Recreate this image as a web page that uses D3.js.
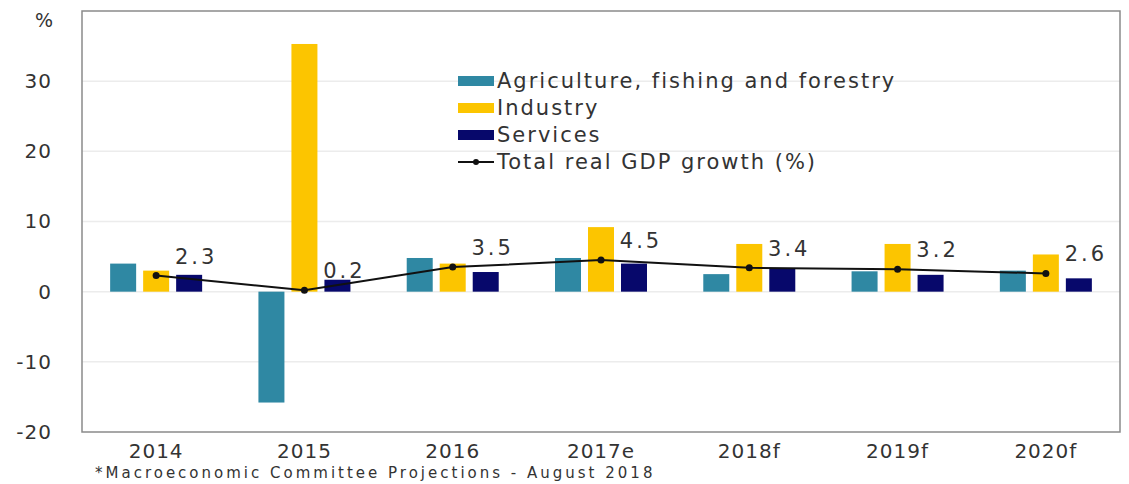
<!DOCTYPE html>
<html>
<head>
<meta charset="utf-8">
<script src="https://cdn.jsdelivr.net/npm/d3@7"></script>
<style>
  body { margin: 0; background: #fff; }
  text { font-family: "DejaVu Sans", sans-serif; fill: #333; }
</style>
</head>
<body>
<svg></svg>
<script>
//data
const years = ["2014", "2015", "2016", "2017e", "2018f", "2019f", "2020f"];
const agriculture = [4.0, -15.8, 4.8, 4.8, 2.5, 2.9, 3.0];
const industry = [3.0, 35.3, 4.0, 9.2, 6.8, 6.8, 5.3];
const services = [2.4, 1.7, 2.8, 4.0, 3.3, 2.4, 1.9];
const gdp = [2.3, 0.2, 3.5, 4.5, 3.4, 3.2, 2.6];
const seriesNames = ["Agriculture, fishing and forestry", "Industry", "Services"];
const yTicks = [-20, -10, 0, 10, 20, 30];
const footnote = "*Macroeconomic Committee Projections  - August 2018";

//constants
const W = 1129, H = 484;
const margin = {top: 11, right: 9, bottom: 52, left: 82};
const width = W - margin.left - margin.right;
const height = H - margin.top - margin.bottom;
const colors = ["#2f88a3", "#fcc500", "#07086b"];

const svg = d3.select("svg")
    .attr("width", W)
    .attr("height", H);

const g = svg.append("g")
    .attr("transform", "translate(" + margin.left + "," + margin.top + ")");

//scales
const x = d3.scaleBand()
    .domain(years)
    .range([0, width]);

const yScale = d3.scaleLinear()
    .domain([-20, 40])
    .range([height, 0]);

const barW = 26, step = 33;

//grid
g.append("g")
    .selectAll("line")
    .data(yTicks.filter(d => d > -20))
    .enter()
    .append("line")
    .attr("x1", 0)
    .attr("x2", width)
    .attr("y1", d => yScale(d))
    .attr("y2", d => yScale(d))
    .attr("stroke", "#ececec")
    .attr("stroke-width", 1.5);

//bars
const series = [agriculture, industry, services];
series.forEach((vals, s) => {
    g.append("g")
        .selectAll("rect")
        .data(vals)
        .enter()
        .append("rect")
        .attr("x", (d, i) => x(years[i]) + x.bandwidth() / 2 + (s - 1) * step - barW / 2)
        .attr("y", d => yScale(Math.max(0, d)))
        .attr("width", barW)
        .attr("height", d => Math.abs(yScale(d) - yScale(0)))
        .attr("fill", colors[s]);
});

//gdp line
const line = d3.line()
    .x((d, i) => x(years[i]) + x.bandwidth() / 2)
    .y(d => yScale(d));

g.append("path")
    .datum(gdp)
    .attr("d", line)
    .attr("fill", "none")
    .attr("stroke", "#111")
    .attr("stroke-width", 2);

g.selectAll(".dot")
    .data(gdp)
    .enter()
    .append("circle")
    .attr("cx", (d, i) => x(years[i]) + x.bandwidth() / 2)
    .attr("cy", d => yScale(d))
    .attr("r", 3.5)
    .attr("fill", "#111");

g.selectAll(".gdplabel")
    .data(gdp)
    .enter()
    .append("text")
    .attr("x", (d, i) => x(years[i]) + x.bandwidth() / 2 + 40)
    .attr("y", d => yScale(d) - 12)
    .attr("text-anchor", "middle")
    .style("font-size", "21px")
    .style("letter-spacing", "3px")
    .text(d => d3.format(".1f")(d));

//frame
g.append("rect")
    .attr("width", width)
    .attr("height", height)
    .attr("fill", "none")
    .attr("stroke", "#8a8a8a")
    .attr("stroke-width", 1.5);

//axes
const yAxis = d3.axisLeft(yScale)
    .tickValues(yTicks)
    .tickSize(0)
    .tickPadding(30)
    .tickFormat(d => String(d));

g.append("g")
    .call(yAxis)
    .call(a => a.select(".domain").remove())
    .selectAll("text")
    .style("font-size", "20px")
    .style("letter-spacing", "1px");

g.append("text")
    .attr("x", -38)
    .attr("y", yScale(40) + 16)
    .attr("text-anchor", "middle")
    .style("font-size", "19px")
    .text("%");

const xAxis = d3.axisBottom(x)
    .tickSize(0)
    .tickPadding(12);

g.append("g")
    .attr("transform", "translate(0," + height + ")")
    .call(xAxis)
    .call(a => a.select(".domain").remove())
    .selectAll("text")
    .style("font-size", "20px")
    .style("letter-spacing", "1px");

//footnote
svg.append("text")
    .attr("x", 95)
    .attr("y", 478)
    .style("font-size", "15px")
    .style("letter-spacing", "3px")
    .text(footnote);

//legend
const legend = svg.append("g")
    .attr("transform", "translate(458,81)");

legend.selectAll("rect")
    .data(seriesNames)
    .enter()
    .append("rect")
    .attr("x", 0)
    .attr("y", (d, i) => i * 27 - 5)
    .attr("width", 36)
    .attr("height", 10)
    .attr("fill", (d, i) => colors[i]);

legend.append("line")
    .attr("x1", 0)
    .attr("x2", 36)
    .attr("y1", 81)
    .attr("y2", 81)
    .attr("stroke", "#111")
    .attr("stroke-width", 2);

legend.append("circle")
    .attr("cx", 18)
    .attr("cy", 81)
    .attr("r", 3)
    .attr("fill", "#111");

legend.selectAll("text")
    .data(seriesNames.concat(["Total real GDP growth (%)"]))
    .enter()
    .append("text")
    .attr("x", 39)
    .attr("y", (d, i) => i * 27)
    .attr("dy", "0.35em")
    .style("font-size", "21px")
    .style("letter-spacing", "2px")
    .text(d => d);
</script>
</body>
</html>
